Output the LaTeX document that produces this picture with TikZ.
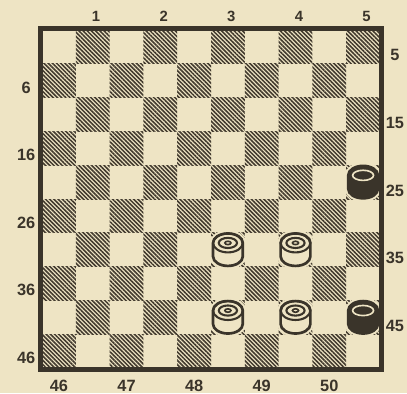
\documentclass[tikz,border=0pt]{standalone}
\usepackage{fontspec}
\setmainfont{Liberation Sans}
\usetikzlibrary{patterns.meta}
\definecolor{paper}{RGB}{238,228,196}
\definecolor{ink}{RGB}{58,52,42}
\definecolor{hatch}{RGB}{66,58,46}
\tikzset{
  darksq/.style={pattern={Lines[angle=-45,distance=2pt,line width=1.05pt]},
    pattern color=hatch},
  frame/.style={draw=ink, line width=3pt},
  numlbl/.style={font=\fontsize{11}{13}\selectfont\bfseries, text=ink, inner sep=0pt},
  toplbl/.style={font=\fontsize{10}{12}\selectfont\bfseries, text=ink, inner sep=0pt},
  manbody/.style={insert path={(-0.44,0.2) -- (-0.44,-0.2)
    arc[start angle=180, end angle=360, x radius=0.44, y radius=0.28]
    -- (0.44,0.2)
    arc[start angle=0, end angle=180, x radius=0.44, y radius=0.28] -- cycle}},
  whiteman/.pic={
    \path[manbody, fill=paper, draw=paper, line width=4.5pt];
    \draw[manbody, fill=paper, draw=ink, line width=1.8pt];
    \draw[ink, line width=1.4pt] (0,0.2) ellipse[x radius=0.44, y radius=0.28];
    \draw[ink, line width=1.4pt] (0,0.2) ellipse[x radius=0.27, y radius=0.15];
    \draw[ink, line width=1.1pt] (0,0.2) ellipse[x radius=0.09, y radius=0.05];
  },
  blackman/.pic={
    \path[manbody, fill=paper, draw=paper, line width=4.5pt];
    \draw[manbody, fill=ink, draw=ink, line width=1.8pt];
    \draw[paper, line width=1.1pt] (0,0.2) ellipse[x radius=0.31, y radius=0.15];
  },
}

\begin{document}
\begin{tikzpicture}[x=0.8cm,y=0.8cm]
  % Paper
  \fill[paper] (-1.243,-0.740) rectangle (10.799,10.888);
  \useasboundingbox (-1.243,-0.740) rectangle (10.799,10.888);

  % Hatched dark squares
  \foreach \r in {1,...,10}
    \foreach \c in {1,...,10}{
      \pgfmathtruncatemacro\odd{mod(\r+\c,2)}
      \ifnum\odd=1
        \path[darksq] (\c-1,10-\r) rectangle (\c,11-\r);
      \fi
    }

  % White men on 33, 34, 43, 44
  \pic at (5.5,3.5) {whiteman};
  \pic at (7.5,3.5) {whiteman};
  \pic at (5.5,1.5) {whiteman};
  \pic at (7.5,1.5) {whiteman};

  % Black men on 25, 45
  \pic at (9.5,5.5) {blackman};
  \pic at (9.5,1.5) {blackman};

  % Board frame
  \draw[frame] (-0.05,-0.05) rectangle (10.05,10.05);

  % Square numbers
  \foreach \n [count=\k] in {1,...,5}
    \node[toplbl] (t\n) at (2*\k-0.4,10.41) {\n};
  \foreach \n [count=\k] in {5,15,25,35,45}
    \node[numlbl] (r\n) at (10.44,11.25-2*\k) {\n};
  \foreach \n [count=\k] in {6,16,26,36,46}
    \node[numlbl] (l\n) at (-0.47,10.3-2*\k) {\n};
  \foreach \n [count=\k] in {46,...,50}
    \node[numlbl] (b\n) at (2*\k-1.5,-0.53) {\n};
\end{tikzpicture}
\end{document}
